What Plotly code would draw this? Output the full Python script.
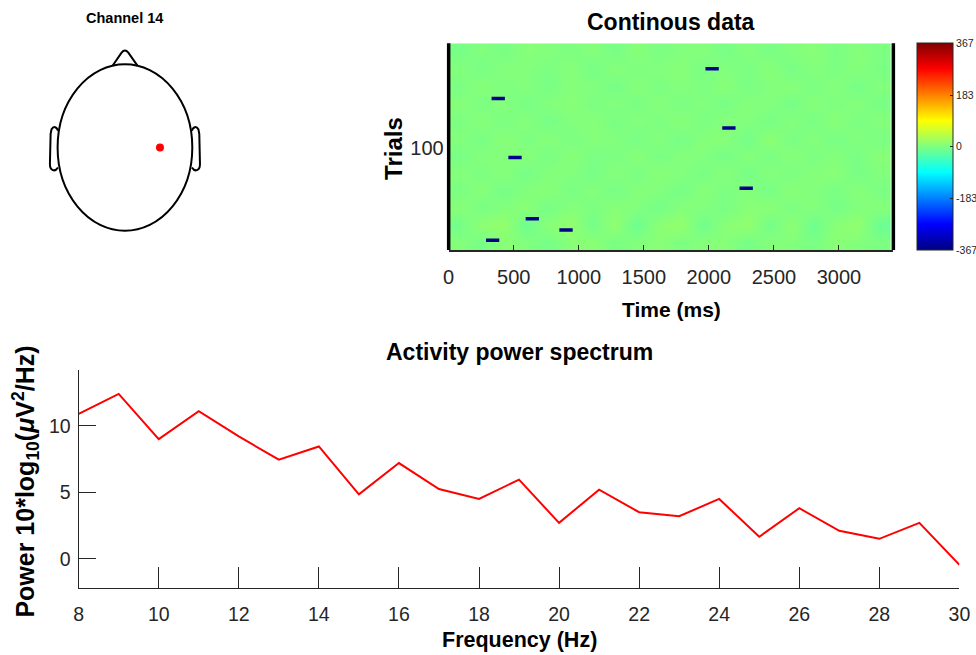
import math
import plotly.graph_objects as go

# The photographed picture maps page x to 4.4 + 0.982*x (measured), so positions
# read from the reference (picture pixels) are converted back to page pixels.
PIC_OFF, PIC_SCALE = 4.4, 0.982
W, H = 990, 655

# ---------------- data ----------------
freqs = [8, 9, 10, 11, 12, 13, 14, 15, 16, 17, 18, 19, 20, 21, 22, 23, 24, 25, 26, 27, 28, 29, 30]
power_db = [10.9, 12.4, 9.0, 11.1, 9.2, 7.45, 8.45, 4.85, 7.2, 5.25, 4.5, 5.95, 2.7, 5.2, 3.5,
            3.2, 4.5, 1.65, 3.8, 2.1, 1.5, 2.7, -0.45]
freq_ticks = [8, 10, 12, 14, 16, 18, 20, 22, 24, 26, 28, 30]
power_ticks = [0, 5, 10]

time_ticks = [0, 500, 1000, 1500, 2000, 2500, 3000]
trial_ticks = [100]
bg_time = [85, 255, 425, 595, 765, 935, 1105, 1275, 1445, 1615, 1785, 1955, 2125, 2295,
           2465, 2635, 2805, 2975, 3145, 3315]
bg_trial = [8, 25, 42, 59, 76, 93, 110, 127, 144, 161, 178, 195]
bg_uv = [
    [4, -6, 7, 2, -7, 6, 8, -4, 2, 7, -2, 4, 6, -6, 4, 2, -4, 7, 2, -2],
    [-8, 10, 14, -12, 7, 13, -7, 12, -13, 8, 14, -10, 6, 13, -8, 10, -12, 7, 13, -14],
    [6, -4, 2, 7, -6, 4, -2, 6, 2, -7, 4, 2, -4, 6, 7, -2, 4, -6, 2, 4],
    [-3, 5, -6, 2, 6, -4, 3, -5, 4, 2, -6, 5, -2, 3, -5, 6, 2, -4, 5, -3],
    [4, -2, 5, -6, 3, 2, -5, 4, -3, 6, 2, -4, 5, -6, 3, -2, 4, 6, -5, 2],
    [-5, 3, 2, 5, -4, 6, -3, -2, 5, -4, 3, 2, -6, 4, -3, 5, -2, 3, -4, 6],
    [3, -4, 6, -2, 5, -3, 4, 2, -5, 3, -6, 4, 6, -8, 9, -4, 3, -5, 2, -3],
    [-2, 5, -3, 4, -6, 2, 5, -4, 3, -2, 6, -3, 4, 2, -5, 3, -4, 6, -3, 4],
    [5, -3, 4, -5, 2, 6, -2, 3, -4, 5, -3, 2, -5, 4, 3, -6, 5, -2, 4, -5],
    [-4, 6, -2, 3, -5, 4, 2, -6, 5, -3, 4, -2, 6, -4, 2, 5, -3, 4, -6, 3],
    [3, -5, 4, 2, -3, 5, -6, 4, -2, 3, 5, -4, 2, -3, 6, -5, 3, -2, 4, -4],
    [-6, 2, -4, 5, 3, -2, 4, -5, 6, -3, 2, 4, -5, 3, -4, 2, 6, -3, 5, -2],
]
event_time = [338, 381, 510, 643, 902, 2025, 2154, 2287]
event_trial = [10, 149, 91, 31, 20, 178, 120, 61]
cbar_ticks = [-367, -183, 0, 183, 367]
z_lim = 367

chan_label = "Channel 14"
chan_theta = [90]
chan_radius = [0.26]

# ---------------- helpers (picture pixel -> paper fraction) ----------------
def page_x(p):
    return (p - PIC_OFF) / PIC_SCALE

def px_x(p):
    return page_x(p) / W

def px_y(p):
    return 1 - p / H

FONT = "Liberation Sans, Arial, Helvetica, sans-serif"
TXT = "#262626"

jet = [[0.0, "rgb(0,0,128)"], [0.125, "rgb(0,0,255)"], [0.375, "rgb(0,255,255)"],
       [0.625, "rgb(255,255,0)"], [0.875, "rgb(255,0,0)"], [1.0, "rgb(128,0,0)"]]

chan_x = [r * math.sin(math.radians(t)) for r, t in zip(chan_radius, chan_theta)]
chan_y = [r * math.cos(math.radians(t)) for r, t in zip(chan_radius, chan_theta)]

fig = go.Figure()

# spectrum
fig.add_trace(go.Scatter(x=freqs, y=power_db, mode="lines",
                         line=dict(color="#ff0000", width=2),
                         xaxis="x", yaxis="y", showlegend=False))

# continuous data image
fig.add_trace(go.Heatmap(x=bg_time, y=bg_trial, z=bg_uv, zmin=-z_lim, zmax=z_lim,
                         colorscale=jet, zsmooth="best", xaxis="x2", yaxis="y2",
                         colorbar=dict(x=px_x(914.5), xanchor="left", xref="paper",
                                       y=px_y(43.3), yanchor="top", yref="paper",
                                       len=207, lenmode="pixels",
                                       thickness=35.5 / PIC_SCALE, thicknessmode="pixels",
                                       outlinewidth=1, outlinecolor=TXT,
                                       tickvals=cbar_ticks, ticktext=[str(v) for v in cbar_ticks],
                                       ticks="inside", ticklen=3, tickcolor=TXT,
                                       tickfont=dict(family=FONT, size=10.5, color=TXT),
                                       xpad=0, ypad=0)))
fig.add_trace(go.Scatter(x=event_time, y=event_trial, mode="markers",
                         marker=dict(symbol="line-ew", size=9.5,
                                     line=dict(color="rgb(0,0,140)", width=3.5)),
                         xaxis="x2", yaxis="y2", showlegend=False))

# electrode on head
fig.add_trace(go.Scatter(x=chan_x, y=chan_y, mode="markers",
                         marker=dict(color="#ff0000", size=8),
                         xaxis="x3", yaxis="y3", showlegend=False))

# ---------------- axes ----------------
fig.update_layout(
    width=W, height=H, autosize=False, margin=dict(l=0, r=0, t=0, b=0),
    paper_bgcolor="white", plot_bgcolor="white",
    font=dict(family=FONT, color=TXT),
    xaxis=dict(domain=[px_x(77), px_x(957)], range=[8, 30], tickvals=freq_ticks,
               ticks="inside", ticklen=21, tickcolor=TXT, tickwidth=1,
               showline=True, linecolor=TXT, linewidth=1.2, showgrid=False, zeroline=False,
               tickfont=dict(size=19.5, color=TXT), anchor="y", ticklabelstandoff=8),
    yaxis=dict(domain=[px_y(588), px_y(370)], range=[-2.2, 14.2], tickvals=power_ticks,
               ticks="inside", ticklen=17, tickcolor=TXT, tickwidth=1,
               showline=True, linecolor=TXT, linewidth=1.2, showgrid=False, zeroline=False,
               tickfont=dict(size=19.5, color=TXT), anchor="x", ticklabelstandoff=3),
    xaxis2=dict(domain=[px_x(446.7), px_x(891)], range=[0, 3418], tickvals=time_ticks,
                ticks="inside", ticklen=5, tickcolor=TXT,
                showline=True, linecolor=TXT, linewidth=1.5, showgrid=False, zeroline=False,
                tickfont=dict(size=20, color=TXT), anchor="y2", ticklabelstandoff=8),
    yaxis2=dict(domain=[px_y(250), px_y(43.3)], range=[0.5, 203], tickvals=trial_ticks,
                ticks="", showline=False, showgrid=False, zeroline=False,
                tickfont=dict(size=20, color=TXT), anchor="x2", ticklabelstandoff=4),
    xaxis3=dict(domain=[px_x(42.5), px_x(204)], range=[-0.6, 0.6], visible=False, anchor="y3"),
    yaxis3=dict(domain=[px_y(247.3), px_y(39.3)], range=[-0.6, 0.65], visible=False, anchor="x3"),
)

# ---------------- head outline ----------------
shapes = []
hl = dict(color="black", width=2)
shapes.append(dict(type="circle", xref="x3", yref="y3", x0=-0.5, x1=0.5, y0=-0.5, y1=0.5, line=hl))
shapes.append(dict(type="path", xref="x3", yref="y3",
                   path="M -0.092,0.491 L -0.025,0.57 Q 0,0.595 0.025,0.57 L 0.094,0.49", line=hl))
ear_r = "M 0.497,0.10 C 0.505,0.125 0.53,0.13 0.545,0.11 L 0.552,0.08 L 0.557,-0.10 " \
        "C 0.557,-0.14 0.52,-0.15 0.497,-0.12"
ear_l = "M -0.497,0.10 C -0.505,0.125 -0.53,0.13 -0.545,0.11 L -0.552,0.08 L -0.557,-0.10 " \
        "C -0.557,-0.14 -0.52,-0.15 -0.497,-0.12"
shapes.append(dict(type="path", xref="x3", yref="y3", path=ear_r, line=hl))
shapes.append(dict(type="path", xref="x3", yref="y3", path=ear_l, line=hl))

# thick vertical borders of the image
for xe in (0, 1):
    shapes.append(dict(type="line", xref="x2 domain", yref="y2 domain", x0=xe, x1=xe, y0=0, y1=1,
                       line=dict(color="black", width=3.5)))
fig.update_layout(shapes=shapes)

# ---------------- text ----------------
def ann(text, x, y, size, angle=0):
    return dict(text=text, x=px_x(x), y=px_y(y), xref="paper", yref="paper",
                showarrow=False, xanchor="center", yanchor="middle", textangle=angle,
                font=dict(family=FONT, size=size, color="black"))

fig.update_layout(annotations=[
    ann("<b>" + chan_label + "</b>", 123, 18, 14.5),
    ann("<b>Continous data</b>", 669, 22, 23),
    ann("<b>Time (ms)</b>", 669, 309, 21),
    ann("<b>Trials</b>", 391, 148, 24, -90),
    ann("<b>Activity power spectrum</b>", 517, 352, 23),
    ann("<b>Frequency (Hz)</b>", 517, 640, 21.5),
    ann("<b>Power 10*log<sub>10</sub>(<i>μ</i>V<sup>2</sup>/Hz)</b>", 24, 482, 25, -90),
])

post = ("document.documentElement.style.margin='0';document.body.style.margin='0';"
        "document.body.style.padding='0';document.documentElement.style.overflow='hidden';"
        "document.body.style.overflow='hidden';")
fig.write_html("out.html", config={"responsive": False, "displayModeBar": False}, post_script=post)
